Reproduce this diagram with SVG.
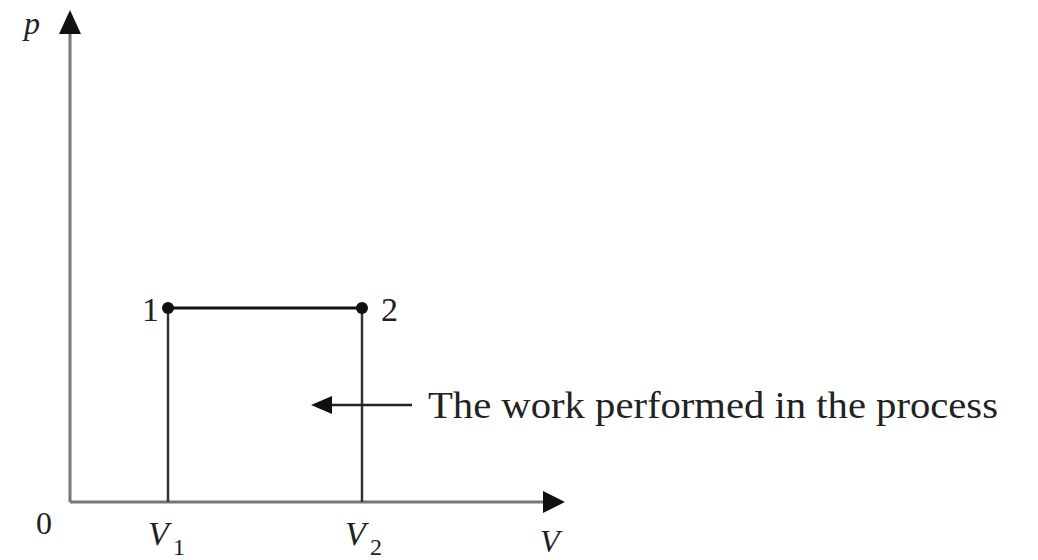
<svg xmlns="http://www.w3.org/2000/svg" width="1038" height="560" viewBox="0 0 1038 560">
<style>
.t{font-family:"Liberation Serif","Times New Roman",Times,serif;fill:#222}
.it{font-style:italic}
.axis{stroke:#777;stroke-width:3;fill:none}
.ln{stroke:#333;stroke-width:2.5;fill:none}
</style>
<rect width="1038" height="560" fill="#fff"/>
<g id="axes">
<line class="axis" x1="70" y1="502" x2="70" y2="32"/>
<path d="M59,34 L70,10 L81,34 Z" fill="#111"/>
<line class="axis" x1="70" y1="502" x2="545" y2="502"/>
<path d="M543,491 L565,502 L543,513 Z" fill="#111"/>
<text class="t it" x="24" y="34" font-size="32">p</text>
<text class="t" x="36" y="534" font-size="32">0</text>
<text class="t it" x="540" y="552" font-size="32">V</text>
</g>
<g id="connectors">
<line class="ln" x1="168" y1="308" x2="168" y2="502"/>
<line class="ln" x1="362" y1="308" x2="362" y2="502"/>
<line stroke="#111" stroke-width="3" x1="168" y1="308" x2="362" y2="308"/>
<line stroke="#222" stroke-width="2.5" x1="330" y1="405" x2="412" y2="405"/>
<path d="M332,396 L311,405 L332,414 Z" fill="#111"/>
</g>
<g id="node1">
<circle cx="168" cy="308" r="6" fill="#111"/>
<text class="t" x="142" y="321" font-size="34">1</text>
</g>
<g id="node2">
<circle cx="362" cy="308" r="6" fill="#111"/>
<text class="t" x="381" y="321" font-size="34">2</text>
</g>
<g id="v1">
<text class="t it" x="148" y="545" font-size="34">V</text>
<text class="t" x="173" y="555" font-size="24">1</text>
</g>
<g id="v2">
<text class="t it" x="345" y="545" font-size="34">V</text>
<text class="t" x="370" y="555" font-size="24">2</text>
</g>
<g id="label">
<text class="t" x="428" y="418" font-size="37" textLength="570" lengthAdjust="spacingAndGlyphs">The work performed in the process</text>
</g>
</svg>
